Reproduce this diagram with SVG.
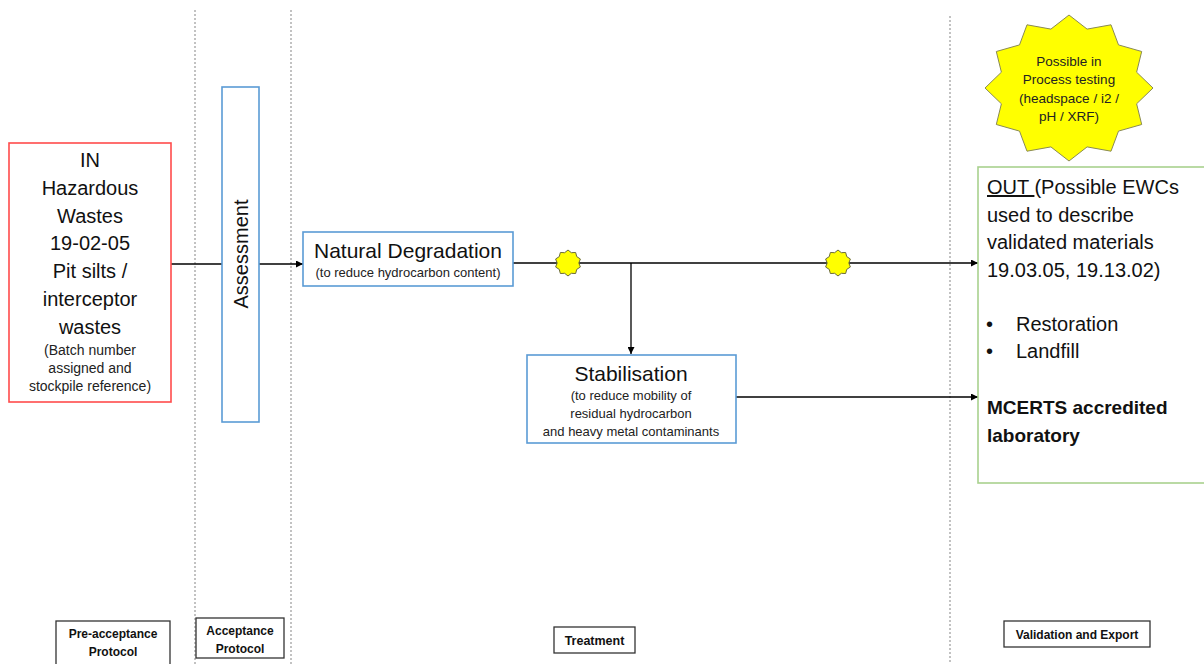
<svg xmlns="http://www.w3.org/2000/svg" width="1204" height="664" viewBox="0 0 1204 664">
  <style>
    text { font-family: "Liberation Sans", Arial, sans-serif; fill: #111; }
    .big { font-size: 20px; }
    .mid { font-size: 21px; }
    .small { font-size: 13px; fill: #222; }
    .lab { font-size: 12px; font-weight: bold; }
    .c { text-anchor: middle; }
    .lane { stroke: #9a9a9a; stroke-width: 1.2; stroke-dasharray: 2 2; fill: none; }
    .blue { fill: #fff; stroke: #5b9bd5; stroke-width: 1.6; }
    .conn { stroke: #000; stroke-width: 1.3; fill: none; }
    .tag { fill: #fff; stroke: #333; stroke-width: 1.3; }
  </style>
  <defs>
    <marker id="arrow" viewBox="0 0 10 10" refX="10" refY="5" markerWidth="7" markerHeight="7" orient="auto" markerUnits="userSpaceOnUse">
      <path d="M0,0 L10,5 L0,10 z" fill="#000"/>
    </marker>
    <path id="burst" d="M0,-13 L3.35,-10.3 L7.64,-10.52 L8.76,-6.37 L12.36,-4.02 L10.83,0 L12.36,4.02 L8.76,6.37 L7.64,10.52 L3.35,10.3 L0,13 L-3.35,10.3 L-7.64,10.52 L-8.76,6.37 L-12.36,4.02 L-10.83,0 L-12.36,-4.02 L-8.76,-6.37 L-7.64,-10.52 L-3.35,-10.3 z" fill="#ffff00" stroke="#6b6b3a" stroke-width="1"/>
  </defs>

  <rect width="1204" height="664" fill="#fff"/>

  <!-- stage separators -->
  <g id="lanes">
    <line class="lane" x1="195" y1="10" x2="195" y2="664"/>
    <line class="lane" x1="291" y1="10" x2="291" y2="664"/>
    <line class="lane" x1="950" y1="16" x2="950" y2="664"/>
  </g>

  <!-- connectors -->
  <g id="connectors">
    <line class="conn" x1="171" y1="264" x2="222" y2="264"/>
    <line class="conn" x1="259" y1="264" x2="303" y2="264" marker-end="url(#arrow)"/>
    <line class="conn" x1="513" y1="263" x2="978" y2="263" marker-end="url(#arrow)"/>
    <line class="conn" x1="631" y1="263" x2="631" y2="354" stroke="#444" marker-end="url(#arrow)"/>
    <line class="conn" x1="736" y1="397" x2="978" y2="397" marker-end="url(#arrow)"/>
    <use href="#burst" x="568" y="263"/>
    <use href="#burst" x="838" y="263"/>
  </g>

  <g id="node-in">
    <rect x="9" y="143" width="162" height="259" fill="#fff" stroke="#ff4b4b" stroke-width="1.6"/>
    <text class="big c" x="90" y="167">IN</text>
    <text class="big c" x="90" y="195">Hazardous</text>
    <text class="big c" x="90" y="223">Wastes</text>
    <text class="big c" x="90" y="250">19-02-05</text>
    <text class="big c" x="90" y="278">Pit silts /</text>
    <text class="big c" x="90" y="306">interceptor</text>
    <text class="big c" x="90" y="334">wastes</text>
    <text class="small c" x="90" y="355" style="font-size:14px">(Batch number</text>
    <text class="small c" x="90" y="373" style="font-size:14px">assigned and</text>
    <text class="small c" x="90" y="391" style="font-size:14px">stockpile reference)</text>
  </g>

  <g id="node-assessment">
    <rect class="blue" x="222" y="87" width="37" height="335"/>
    <text class="big c" transform="translate(248,254) rotate(-90)">Assessment</text>
  </g>

  <g id="node-natural">
    <rect class="blue" x="303" y="232" width="210" height="54"/>
    <text class="mid c" x="408" y="258">Natural Degradation</text>
    <text class="small c" x="408" y="277">(to reduce hydrocarbon content)</text>
  </g>

  <g id="node-stabilisation">
    <rect class="blue" x="527" y="355" width="209" height="88"/>
    <text class="mid c" x="631" y="381">Stabilisation</text>
    <text class="small c" x="631" y="400">(to reduce mobility of</text>
    <text class="small c" x="631" y="418">residual hydrocarbon</text>
    <text class="small c" x="631" y="436">and heavy metal contaminants</text>
  </g>

  <g id="node-testing">
    <polygon points="1069,15 1087.1,29.1 1111,24.8 1118.5,44.9 1141.7,51.5 1136.6,72.2 1153,88 1136.6,103.8 1141.7,124.5 1118.5,131.1 1111,151.2 1087.1,146.9 1069,161 1050.9,146.9 1027,151.2 1019.5,131.1 996.3,124.5 1001.4,103.8 985,88 1001.4,72.2 996.3,51.5 1019.5,44.9 1027,24.8 1050.9,29.1" fill="#ffff00" stroke="#8a8a55" stroke-width="1"/>
    <text class="small c" x="1069" y="66" style="font-size:13.5px">Possible in</text>
    <text class="small c" x="1069" y="84" style="font-size:13.5px">Process testing</text>
    <text class="small c" x="1069" y="103" style="font-size:13.5px">(headspace / i2 /</text>
    <text class="small c" x="1069" y="121" style="font-size:13.5px">pH / XRF)</text>
  </g>

  <g id="node-out">
    <rect x="978" y="167" width="232" height="316" fill="#fff" stroke="#a9d18e" stroke-width="1.6"/>
    <text class="big" x="987" y="194"><tspan text-decoration="underline">OUT </tspan>(Possible EWCs</text>
    <text class="big" x="987" y="222">used to describe</text>
    <text class="big" x="987" y="249">validated materials</text>
    <text class="big" x="987" y="277">19.03.05, 19.13.02)</text>
    <text class="big" x="986" y="331">•</text>
    <text class="big" x="1016" y="331">Restoration</text>
    <text class="big" x="986" y="358">•</text>
    <text class="big" x="1016" y="358">Landfill</text>
    <text class="big" x="987" y="414" style="font-weight:bold;font-size:19px">MCERTS accredited</text>
    <text class="big" x="987" y="442" style="font-weight:bold;font-size:19px">laboratory</text>
  </g>

  <!-- stage labels -->
  <g id="label-preacceptance">
    <rect class="tag" x="56" y="621" width="114" height="48"/>
    <text class="lab c" x="113" y="638">Pre-acceptance</text>
    <text class="lab c" x="113" y="656">Protocol</text>
  </g>
  <g id="label-acceptance">
    <rect class="tag" x="196" y="618" width="88" height="40"/>
    <text class="lab c" x="240" y="635">Acceptance</text>
    <text class="lab c" x="240" y="653">Protocol</text>
  </g>
  <g id="label-treatment">
    <rect class="tag" x="554" y="627" width="81" height="26"/>
    <text class="lab c" x="594.5" y="645" style="font-size:12.5px">Treatment</text>
  </g>
  <g id="label-validation">
    <rect class="tag" x="1004" y="621" width="146" height="26"/>
    <text class="lab c" x="1077" y="639">Validation and Export</text>
  </g>
</svg>
